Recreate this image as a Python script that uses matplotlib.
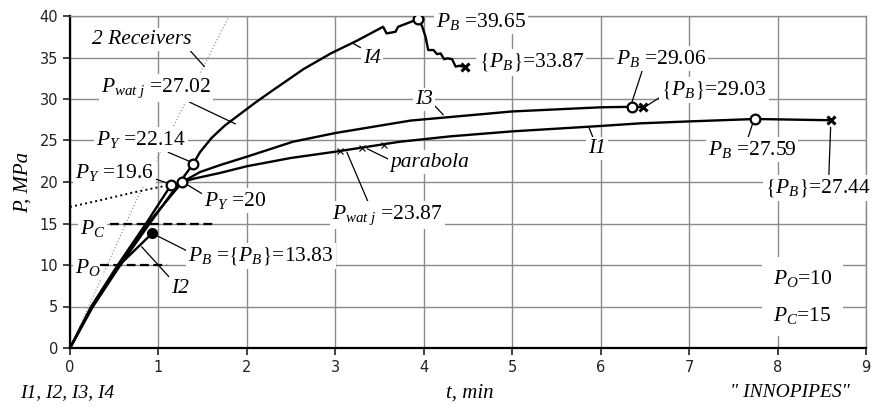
import matplotlib
matplotlib.use('Agg')
import matplotlib.pyplot as plt

# fonts: serif italic for annotations, sans for tick numbers
plt.rcParams['font.family'] = ['Liberation Serif', 'DejaVu Serif']
plt.rcParams['mathtext.fontset'] = 'custom'
plt.rcParams['mathtext.rm'] = 'Liberation Serif'
plt.rcParams['mathtext.it'] = 'Liberation Serif:italic'
plt.rcParams['mathtext.fallback'] = 'stix'

# curve data (t in min, P in MPa)
i4_t = [0, 0.26, 0.57, 0.9, 1.39, 1.47, 1.6, 1.75, 1.9, 2.1, 2.3, 2.64, 2.95,
        3.24, 3.54, 3.58, 3.68, 3.71, 3.88, 3.93, 3.98, 4.02, 4.05, 4.11, 4.15,
        4.19, 4.23, 4.27, 4.32, 4.36, 4.40, 4.47]
i4_p = [0, 5, 10, 15, 22.14, 23.6, 25.3, 26.8, 28.0, 29.6, 31.1, 33.6, 35.5,
        37.0, 38.7, 37.9, 38.1, 38.7, 39.4, 39.65, 38.8, 37.5, 35.9, 35.9, 35.4,
        35.5, 34.8, 34.9, 34.8, 33.9, 34.0, 33.87]

i3_t = [0, 0.25, 0.56, 0.88, 1.27, 1.47, 1.7, 2.0, 2.52, 3.0, 3.85, 5.0, 6.0, 6.35, 6.48]
i3_p = [0, 5, 10, 15, 20, 21.2, 22.05, 23.05, 24.85, 25.9, 27.4, 28.5, 29.0, 29.06, 29.03]

i1_t = [0, 0.24, 0.54, 0.86, 1.14, 1.4, 1.7, 2.0, 2.5, 3.0, 3.73, 4.3, 5.0, 6.0,
        6.45, 7.0, 7.75, 8.6]
i1_p = [0, 5, 10, 15, 19.6, 20.4, 21.1, 21.9, 22.9, 23.65, 24.85, 25.5, 26.1,
        26.75, 27.07, 27.3, 27.59, 27.44]

i2_t = [0, 0.25, 0.56, 0.93]
i2_p = [0, 5, 10, 13.83]

parab_t = [0, 0.34, 0.7, 1.06]
parab_p = [17.0, 17.8, 18.7, 19.5]
parab_x_t = [3.05, 3.3, 3.55]
parab_x_p = [23.7, 24.05, 24.4]

receivers_t = [0, 0.75, 1.47, 1.8]
receivers_p = [0, 17.8, 33.1, 40]

# yield and break points
yield_t = [1.39, 1.14, 1.27]
yield_p = [22.14, 19.6, 20.0]
break_t = [3.93, 6.35, 7.75]
break_p = [39.65, 29.06, 27.59]
end_t = [4.47, 6.48, 8.6]
end_p = [33.87, 29.03, 27.44]
i2_break = (0.93, 13.83)

pc_t, pc_level = [0.45, 1.62], 15
po_t, po_level = [0.34, 1.1], 10

xticks = list(range(0, 10))
yticks = list(range(0, 45, 5))

BR = r'\left\{P_{B}\right\}'

# (label, point, text centre, relpos of leader on the text box)
annotations = [
    ('2 Receivers', (1.52, 33.9), (0.81, 37.2), (0.97, 0.0)),
    (r'$P_{wat\ j}$ =27.02', (1.87, 27.0), (0.97, 31.3), (0.72, 0.1)),
    (r'$P_{Y}$ =22.14', (1.37, 22.4), (0.80, 25.1), (0.75, 0.0)),
    (r'$P_{Y}$ =19.6', (1.12, 19.8), (0.50, 21.2), (1.0, 0.2)),
    (r'$P_{Y}$ =20', (1.29, 19.9), (1.87, 17.8), (0.0, 0.75)),
    (r'$P_{wat\ j}$ =23.87', (3.13, 23.6), (3.59, 16.0), (0.33, 1.0)),
    ('parabola', (3.36, 24.0), (4.07, 22.4), (0.0, 0.6)),
    ('I3', (4.22, 28.1), (4.0, 29.9), (1.0, 0.3)),
    ('I4', (3.2, 36.7), (3.41, 34.9), (0.0, 1.0)),
    ('I1', (5.87, 26.5), (5.96, 24.05), (0.3, 1.0)),
    (r'$P_{B}$ =$' + BR + r'$=13.83', (0.97, 13.6), (2.16, 11.1), (0.0, 0.7)),
    ('I2', (0.81, 12.2), (1.24, 7.2), (0.0, 1.0)),
    (r'$P_{B}$ =29.06', (6.35, 29.5), (6.68, 34.9), (0.3, 0.0)),
    ('$' + BR + r'$=29.03', (6.48, 28.9), (7.28, 31.1), (0.0, 0.2)),
    (r'$P_{B}$ =27.59', (7.72, 27.1), (7.71, 23.9), (0.45, 1.0)),
    ('$' + BR + r'$=27.44', (8.6, 26.6), (8.46, 19.3), (0.6, 1.0)),
]
# plain labels, left aligned: (label, x, y)
labels = [
    (r'$P_{B}$ =39.65', 4.14, 39.3),
    ('$' + BR + r'$=33.87', 4.62, 34.4),
    (r'$P_{C}$', 0.11, 14.4),
    (r'$P_{O}$', 0.06, 9.7),
]
# the two reference pressures share one white box in the lower right
ref_note = r'$P_{O}$=10' + '\n' + r'$P_{C}$=15'

TEXT_SIZE = 15.5
BOX = dict(boxstyle='square,pad=0.1', fc='white', ec='none')

fig = plt.figure(figsize=(8.82, 4.08), dpi=100)
ax = fig.add_axes([70 / 882, 60 / 408, 796 / 882, 332 / 408])

ax.set_xlim(0, 9)
ax.set_ylim(0, 40)
ax.set_xticks(xticks)
ax.set_yticks(yticks)
ax.grid(True, color='#8a8a8a', linewidth=1.0, zorder=0)
ax.set_axisbelow(True)
for side in ('top', 'right'):
    ax.spines[side].set_color('#8a8a8a')
    ax.spines[side].set_linewidth(1.0)
for side in ('left', 'bottom'):
    ax.spines[side].set_linewidth(1.6)
ax.tick_params(direction='out', length=5, width=1.2, labelsize=10.5, colors='#222222')
for lab in ax.get_xticklabels() + ax.get_yticklabels():
    lab.set_fontfamily('DejaVu Sans')

# guide lines
ax.plot(receivers_t, receivers_p, ':', color='#9a9a9a', lw=0.9, zorder=1)
ax.plot(parab_t, parab_p, ':', color='k', lw=1.4, zorder=4)
ax.plot(parab_x_t, parab_x_p, 'x', color='k', ms=4, mew=0.8, zorder=6)
ax.plot(pc_t, [pc_level] * 2, '--', color='k', lw=1.6, dashes=(4, 2), zorder=4)
ax.plot(po_t, [po_level] * 2, '--', color='k', lw=1.6, dashes=(4, 2), zorder=4)

# test curves
for t, p in ((i1_t, i1_p), (i3_t, i3_p), (i4_t, i4_p), (i2_t, i2_p)):
    ax.plot(t, p, '-', color='k', lw=1.7, zorder=5)

ax.plot(yield_t, yield_p, 'o', ms=7, mfc='white', mec='k', mew=1.6, ls='none', zorder=7)
ax.plot(break_t, break_p, 'o', ms=7, mfc='white', mec='k', mew=1.6, ls='none', zorder=7)
ax.plot(end_t, end_p, 'x', ms=6, color='k', mew=2.2, ls='none', zorder=7)
ax.plot([i2_break[0]], [i2_break[1]], 'o', ms=7, color='k', zorder=7)

for text, xy, xytext, rel in annotations:
    style = 'italic' if '$' not in text else 'normal'
    ax.annotate(text, xy=xy, xytext=xytext, ha='center', va='center',
                fontsize=TEXT_SIZE, style=style, bbox=BOX, zorder=3,
                arrowprops=dict(arrowstyle='-', color='k', lw=0.9,
                                shrinkA=0, shrinkB=0, relpos=rel))

for text, x, y in labels:
    ax.text(x, y, text, ha='left', va='center', fontsize=TEXT_SIZE, bbox=BOX, zorder=3)

ax.text(7.95, 6.2, ref_note, ha='left', va='center', fontsize=TEXT_SIZE,
        linespacing=2.0, zorder=3,
        bbox=dict(boxstyle='square,pad=0.5', fc='white', ec='none'))

ax.set_ylabel('P, MPa', fontsize=15, style='italic')
ax.yaxis.set_label_coords(-0.047, 0.5)

ax.text(-0.57, -5.4, 'I1, I2, I3, I4', ha='left', va='center', fontsize=14,
        style='italic', clip_on=False)
ax.text(4.52, -5.4, 't, min', ha='center', va='center', fontsize=15,
        style='italic', clip_on=False)
ax.text(8.14, -5.4, '" INNOPIPES"', ha='center', va='center', fontsize=14,
        style='italic', clip_on=False)

fig.savefig('out.png', dpi=100)
